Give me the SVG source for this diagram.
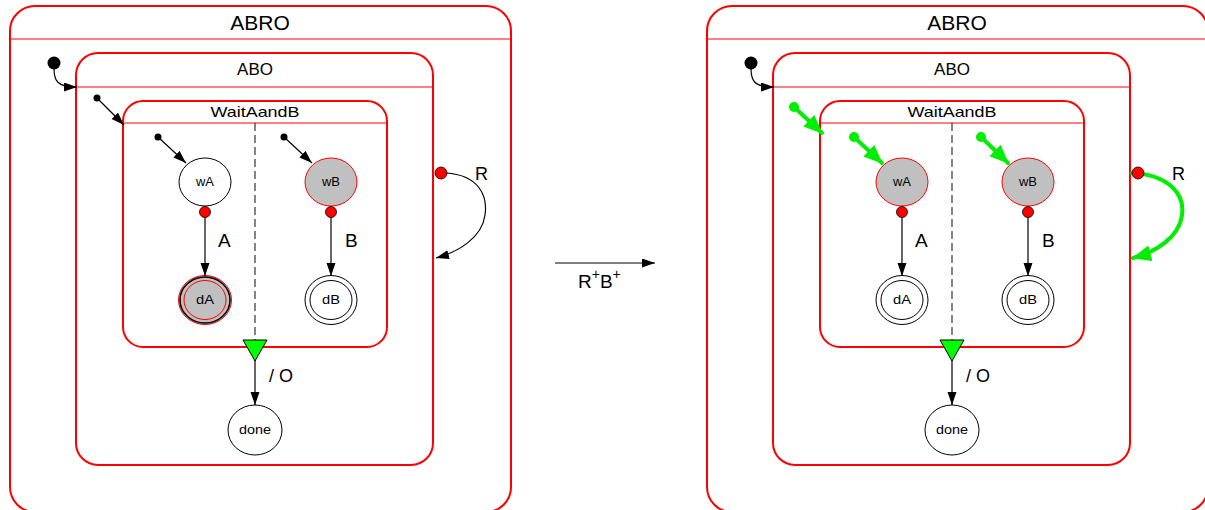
<svg xmlns="http://www.w3.org/2000/svg" width="1205" height="510" viewBox="0 0 1205 510">
<defs>
<style>
.box{fill:#fff;stroke:#ff0000;stroke-width:2}
.hdr{stroke:#ff0000;stroke-width:1;fill:none}
.st{fill:#fff;stroke:#000;stroke-width:1}
.act{fill:#c0c0c0;stroke:#ff0000;stroke-width:1}
.edge{fill:none;stroke:#000;stroke-width:1.2}
.gedge{fill:none;stroke:#00ee00;stroke-width:4;stroke-linecap:round}
.tdot{fill:#ff0000;stroke:#000;stroke-width:0.8}
.t{font-family:"Liberation Sans",Arial,sans-serif;fill:#000}
.nl{font-family:"Liberation Sans",Arial,sans-serif;font-size:12px;fill:#000;text-anchor:middle}
</style>
<marker id="ah" markerUnits="userSpaceOnUse" markerWidth="14" markerHeight="10" refX="13" refY="4.5" orient="auto"><path d="M0,0 L13,4.5 L0,9 z" fill="#000"/></marker>
<marker id="gah" markerUnits="userSpaceOnUse" markerWidth="20" markerHeight="18" refX="18" refY="8" orient="auto"><path d="M0,0 L19,8 L0,16 z" fill="#00ee00"/></marker>
</defs>

<!-- LEFT PANEL -->
<g id="L_ABRO">
<rect class="box" x="10" y="6" width="501" height="506" rx="25"/>
<line class="hdr" x1="10" y1="39" x2="511" y2="39"/>
<text class="t" x="260" y="30" font-size="21" text-anchor="middle">ABRO</text>
</g>
<g id="L_ABO">
<rect class="box" x="76" y="53" width="357" height="412" rx="22"/>
<line class="hdr" x1="76" y1="87" x2="433" y2="87"/>
<text class="t" x="255" y="75" font-size="17" text-anchor="middle">ABO</text>
</g>
<g id="L_WaitAandB">
<rect class="box" x="123" y="101" width="264" height="246" rx="20"/>
<line class="hdr" x1="123" y1="123" x2="387" y2="123"/>
<text class="t" x="255" y="117" font-size="15" text-anchor="middle" textLength="89" lengthAdjust="spacingAndGlyphs">WaitAandB</text>
<line x1="255" y1="123" x2="255" y2="340" stroke="#333" stroke-width="1.2" stroke-dasharray="8,4"/>
</g>
<g id="L_init_ABO"><circle cx="54" cy="63" r="6.5" fill="#000"/></g>
<g id="L_init_W"><circle cx="97" cy="98" r="3.5" fill="#000"/></g>
<g id="L_init_wA"><circle cx="158" cy="137" r="3.5" fill="#000"/></g>
<g id="L_init_wB"><circle cx="284" cy="137" r="3.5" fill="#000"/></g>
<g id="L_wA"><ellipse class="st" cx="205" cy="182" rx="26" ry="24"/><text class="nl" x="205" y="186" textLength="18" lengthAdjust="spacingAndGlyphs">wA</text></g>
<g id="L_wB"><ellipse class="act" cx="331" cy="182" rx="26" ry="24"/><text class="nl" x="331" y="186" textLength="18" lengthAdjust="spacingAndGlyphs">wB</text></g>
<g id="L_dA">
<ellipse cx="205" cy="300" rx="26.5" ry="24.5" fill="#c0c0c0" stroke="#ff0000" stroke-width="1"/>
<ellipse cx="205" cy="300" rx="25" ry="23" fill="none" stroke="#000" stroke-width="1.5"/>
<ellipse cx="205" cy="300" rx="21" ry="19.5" fill="none" stroke="#ff0000" stroke-width="1"/>
<text class="nl" x="205" y="304" textLength="18" lengthAdjust="spacingAndGlyphs">dA</text>
</g>
<g id="L_dB">
<ellipse class="st" cx="331" cy="300" rx="26" ry="24.5" stroke-width="1.3"/>
<ellipse cx="331" cy="300" rx="21" ry="19.5" fill="none" stroke="#000" stroke-width="1"/>
<text class="nl" x="331" y="304" textLength="18" lengthAdjust="spacingAndGlyphs">dB</text>
</g>
<g id="L_join"><path d="M243,340 L267,340 L255,361 z" fill="#00ff00" stroke="#000" stroke-width="1"/></g>
<g id="L_done"><ellipse class="st" cx="255" cy="430" rx="27" ry="25"/><text class="nl" x="255" y="434" textLength="32" lengthAdjust="spacingAndGlyphs">done</text></g>

<!-- MIDDLE -->
<g id="step">
<line class="edge" x1="555" y1="263" x2="655" y2="263" stroke-width="1.6" marker-end="url(#ah)"/>
<text class="t" x="578" y="288" font-size="19">R<tspan font-size="14" dy="-9">+</tspan><tspan dy="9">B</tspan><tspan font-size="14" dy="-9">+</tspan></text>
</g>

<!-- RIGHT PANEL -->
<g id="R_ABRO">
<rect class="box" x="707" y="6" width="501" height="506" rx="25"/>
<line class="hdr" x1="707" y1="39" x2="1208" y2="39"/>
<text class="t" x="957" y="30" font-size="21" text-anchor="middle">ABRO</text>
</g>
<g id="R_ABO">
<rect class="box" x="773" y="53" width="357" height="412" rx="22"/>
<line class="hdr" x1="773" y1="87" x2="1130" y2="87"/>
<text class="t" x="952" y="75" font-size="17" text-anchor="middle">ABO</text>
</g>
<g id="R_WaitAandB">
<rect class="box" x="820" y="101" width="264" height="246" rx="20"/>
<line class="hdr" x1="820" y1="123" x2="1084" y2="123"/>
<text class="t" x="952" y="117" font-size="15" text-anchor="middle" textLength="89" lengthAdjust="spacingAndGlyphs">WaitAandB</text>
<line x1="952" y1="123" x2="952" y2="340" stroke="#333" stroke-width="1.2" stroke-dasharray="8,4"/>
</g>
<g id="R_init_ABO"><circle cx="751" cy="63" r="6.5" fill="#000"/></g>
<g id="R_init_W"><circle cx="794" cy="107" r="5" fill="#00ee00"/></g>
<g id="R_init_wA"><circle cx="854" cy="137" r="5" fill="#00ee00"/></g>
<g id="R_init_wB"><circle cx="981" cy="137" r="5" fill="#00ee00"/></g>
<g id="R_wA"><ellipse class="act" cx="902" cy="182" rx="26" ry="24"/><text class="nl" x="902" y="186" textLength="18" lengthAdjust="spacingAndGlyphs">wA</text></g>
<g id="R_wB"><ellipse class="act" cx="1028" cy="182" rx="26" ry="24"/><text class="nl" x="1028" y="186" textLength="18" lengthAdjust="spacingAndGlyphs">wB</text></g>
<g id="R_dA">
<ellipse class="st" cx="902" cy="300" rx="26" ry="24.5" stroke-width="1.3"/>
<ellipse cx="902" cy="300" rx="21" ry="19.5" fill="none" stroke="#000" stroke-width="1"/>
<text class="nl" x="902" y="304" textLength="18" lengthAdjust="spacingAndGlyphs">dA</text>
</g>
<g id="R_dB">
<ellipse class="st" cx="1028" cy="300" rx="26" ry="24.5" stroke-width="1.3"/>
<ellipse cx="1028" cy="300" rx="21" ry="19.5" fill="none" stroke="#000" stroke-width="1"/>
<text class="nl" x="1028" y="304" textLength="18" lengthAdjust="spacingAndGlyphs">dB</text>
</g>
<g id="R_join"><path d="M940,340 L964,340 L952,361 z" fill="#00ff00" stroke="#000" stroke-width="1"/></g>
<g id="R_done"><ellipse class="st" cx="952" cy="430" rx="27" ry="25"/><text class="nl" x="952" y="434" textLength="32" lengthAdjust="spacingAndGlyphs">done</text></g>

<!-- CONNECTORS -->
<g id="connectors">
<path class="edge" d="M54,68 C54,80 56,87 77,87" marker-end="url(#ah)"/>
<line class="edge" x1="97" y1="98" x2="124" y2="125" marker-end="url(#ah)"/>
<line class="edge" x1="158" y1="137" x2="186" y2="163" marker-end="url(#ah)"/>
<line class="edge" x1="284" y1="137" x2="312" y2="163" marker-end="url(#ah)"/>
<line class="edge" x1="205" y1="217" x2="205" y2="276" marker-end="url(#ah)"/>
<circle class="tdot" cx="205" cy="212" r="5.5"/>
<text class="t" x="218" y="247" font-size="19">A</text>
<line class="edge" x1="331" y1="217" x2="331" y2="276" marker-end="url(#ah)"/>
<circle class="tdot" cx="331" cy="212" r="5.5"/>
<text class="t" x="345" y="247" font-size="19">B</text>
<line class="edge" x1="255" y1="360" x2="255" y2="405" marker-end="url(#ah)"/>
<text class="t" x="269" y="382" font-size="18">/ O</text>
<path class="edge" d="M446,173 C478,175 488,195 485,215 C482,238 458,252 436,258" marker-end="url(#ah)"/>
<circle class="tdot" cx="441" cy="173" r="6"/>
<text class="t" x="475" y="180" font-size="18">R</text>

<path class="edge" d="M751,68 C751,80 753,87 774,87" marker-end="url(#ah)"/>
<line class="gedge" x1="794" y1="107" x2="822" y2="133" marker-end="url(#gah)"/>
<line class="gedge" x1="854" y1="137" x2="882" y2="163" marker-end="url(#gah)"/>
<line class="gedge" x1="981" y1="137" x2="1008" y2="163" marker-end="url(#gah)"/>
<line class="edge" x1="902" y1="217" x2="902" y2="276" marker-end="url(#ah)"/>
<circle class="tdot" cx="902" cy="212" r="5.5"/>
<text class="t" x="915" y="247" font-size="19">A</text>
<line class="edge" x1="1028" y1="217" x2="1028" y2="276" marker-end="url(#ah)"/>
<circle class="tdot" cx="1028" cy="212" r="5.5"/>
<text class="t" x="1042" y="247" font-size="19">B</text>
<line class="edge" x1="952" y1="360" x2="952" y2="405" marker-end="url(#ah)"/>
<text class="t" x="966" y="382" font-size="18">/ O</text>
<path class="gedge" d="M1132,173 C1170,175 1185,195 1182,215 C1179,238 1155,252 1133,258" marker-end="url(#gah)"/>
<circle class="tdot" cx="1138" cy="173" r="6"/>
<text class="t" x="1172" y="180" font-size="18">R</text>
</g>
</svg>
